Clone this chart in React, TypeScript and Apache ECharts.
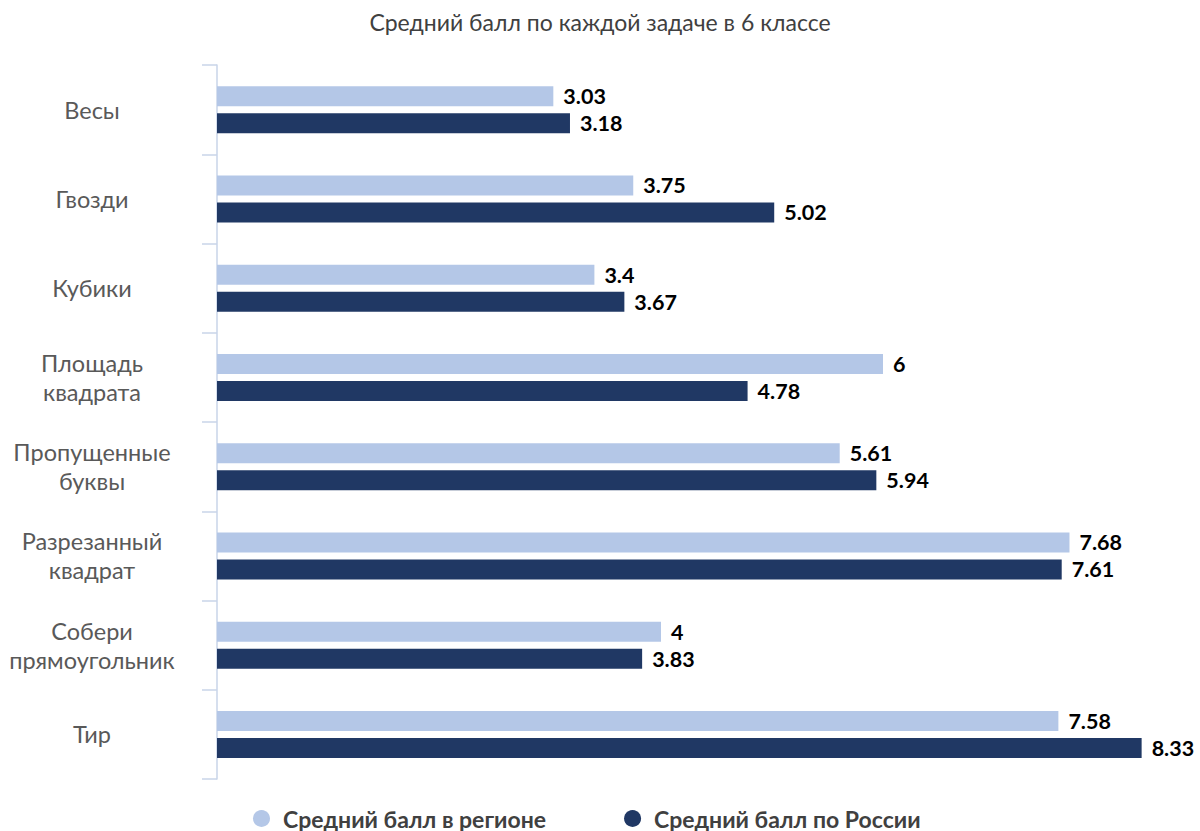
import React, { useEffect, useRef } from "react";
import * as echarts from "echarts";

const categories = [
  "Весы",
  "Гвозди",
  "Кубики",
  "Площадь квадрата",
  "Пропущенные буквы",
  "Разрезанный квадрат",
  "Собери прямоугольник",
  "Тир",
];
const regionValues = [3.03, 3.75, 3.4, 6, 5.61, 7.68, 4, 7.58];
const russiaValues = [3.18, 5.02, 3.67, 4.78, 5.94, 7.61, 3.83, 8.33];
const seriesNames = ["Средний балл в регионе", "Средний балл по России"];
const titleText = "Средний балл по каждой задаче в 6 классе";

const FONT = "Lato, 'Open Sans', sans-serif";

export default function App() {
  const ref = useRef<HTMLDivElement>(null);
  useEffect(() => {
    if (!ref.current) return;
    const chart = echarts.init(ref.current, null, { renderer: "svg" });
    const labelStyle = {
      show: true,
      position: "right",
      distance: 10,
      color: "#000000",
      fontWeight: "bold",
      fontSize: 21.5,
      fontFamily: FONT,
    };
    chart.setOption({
      animation: false,
      backgroundColor: "#ffffff",
      title: {
        text: titleText,
        left: "center",
        top: 5,
        textStyle: { fontSize: 23, fontWeight: "normal", color: "#404040", fontFamily: FONT },
      },
      legend: {
        left: 248,
        top: 802,
        icon: "circle",
        itemWidth: 17,
        itemHeight: 17,
        itemGap: 78,
        itemStyle: { borderWidth: 0 },
        textStyle: {
          fontSize: 23,
          fontWeight: "bold",
          color: "#404040",
          fontFamily: FONT,
          padding: [0, 0, 0, 8],
        },
        data: seriesNames,
      },
      grid: { left: 217, right: 39.5, top: 65, bottom: 52, containLabel: false },
      xAxis: {
        type: "value",
        min: 0,
        max: 8.5,
        show: false,
      },
      yAxis: {
        type: "category",
        inverse: true,
        data: categories,
        axisLine: { show: true, lineStyle: { color: "#c9d4e8", width: 1.5 } },
        axisTick: { show: true, length: 15, lineStyle: { color: "#c9d4e8", width: 1.5 } },
        axisLabel: {
          margin: 125,
          align: "center",
          fontSize: 23.5,
          lineHeight: 29,
          color: "#595959",
          fontFamily: FONT,
          formatter: (v: string) => v.replace(" ", "\n"),
        },
        splitLine: { show: false },
      },
      series: [
        {
          name: seriesNames[0],
          type: "bar",
          data: regionValues,
          barWidth: 20,
          barGap: "35%",
          itemStyle: { color: "#b4c7e7" },
          label: labelStyle,
        },
        {
          name: seriesNames[1],
          type: "bar",
          data: russiaValues,
          barWidth: 20,
          barGap: "35%",
          itemStyle: { color: "#203864" },
          label: labelStyle,
        },
      ],
    });
    return () => chart.dispose();
  }, []);
  return <div ref={ref} style={{ width: 1200, height: 831, position: "absolute", left: 0, top: 0 }} />;
}
